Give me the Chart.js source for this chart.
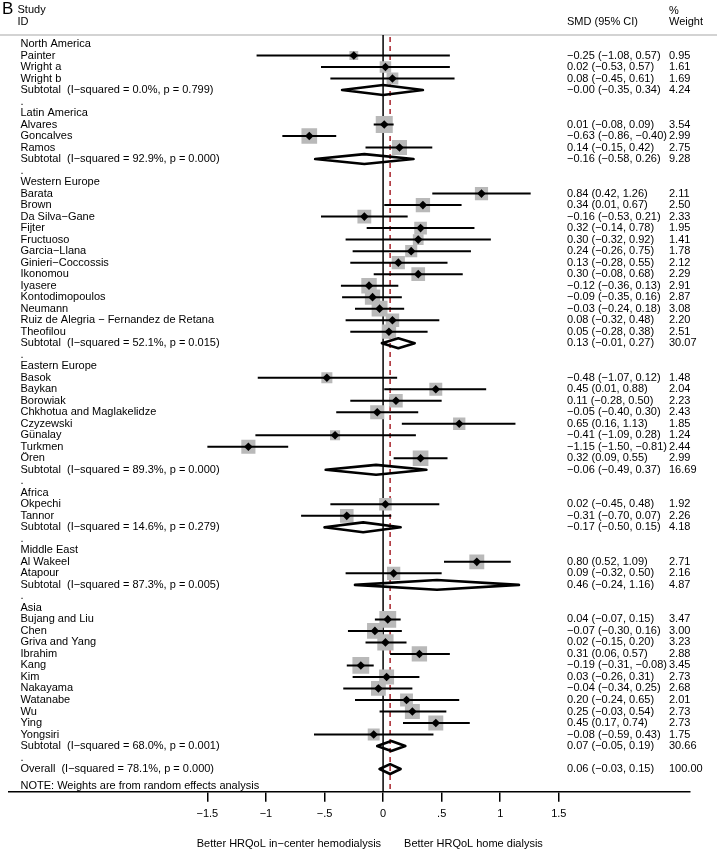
<!DOCTYPE html>
<html>
<head>
<meta charset="utf-8">
<script src="https://cdn.jsdelivr.net/npm/chart.js@4.4.0/dist/chart.umd.min.js"></script>
<style>
  body { margin: 0; background: #fff; }
  canvas { display: block; }
</style>
</head>
<body>
<canvas id="forest" width="717" height="849"></canvas>
<script>
// rows of the forest plot, top to bottom
var rowLabels = [
    'North America', 'Painter', 'Wright a', 'Wright b', 'Subtotal  (I\u2212squared = 0.0%, p = 0.799)', '.',
    'Latin America', 'Alvares', 'Goncalves', 'Ramos', 'Subtotal  (I\u2212squared = 92.9%, p = 0.000)', '.',
    'Western Europe', 'Barata', 'Brown', 'Da Silva\u2212Gane', 'Fijter', 'Fructuoso', 'Garcia\u2212Llana',
    'Ginieri\u2212Coccossis', 'Ikonomou', 'Iyasere', 'Kontodimopoulos', 'Neumann',
    'Ruiz de Alegria \u2212 Fernandez de Retana', 'Theofilou', 'Subtotal  (I\u2212squared = 52.1%, p = 0.015)', '.',
    'Eastern Europe', 'Basok', 'Baykan', 'Borowiak', 'Chkhotua and Maglakelidze', 'Czyzewski', 'G\u00fcnalay',
    'Turkmen', '\u00d6ren', 'Subtotal  (I\u2212squared = 89.3%, p = 0.000)', '.',
    'Africa', 'Okpechi', 'Tannor', 'Subtotal  (I\u2212squared = 14.6%, p = 0.279)', '.',
    'Middle East', 'Al Wakeel', 'Atapour', 'Subtotal  (I\u2212squared = 87.3%, p = 0.005)', '.',
    'Asia', 'Bujang and Liu', 'Chen', 'Griva and Yang', 'Ibrahim', 'Kang', 'Kim', 'Nakayama', 'Watanabe',
    'Wu', 'Ying', 'Yongsiri', 'Subtotal  (I\u2212squared = 68.0%, p = 0.001)', '.',
    'Overall  (I\u2212squared = 78.1%, p = 0.000)'
];
var noteText = 'NOTE: Weights are from random effects analysis';

// h = group header, s = study, t = subtotal, o = overall, '' = plain text
var rowKinds = [
    'h', 's', 's', 's', 't', '',
    'h', 's', 's', 's', 't', '',
    'h', 's', 's', 's', 's', 's', 's', 's', 's', 's', 's', 's', 's', 's', 't', '',
    'h', 's', 's', 's', 's', 's', 's', 's', 's', 't', '',
    'h', 's', 's', 't', '',
    'h', 's', 's', 't', '',
    'h', 's', 's', 's', 's', 's', 's', 's', 's', 's', 's', 's', 't', '',
    'o'
];

var smd = [
    null, -0.25, 0.02, 0.08, -0.00, null,
    null, 0.01, -0.63, 0.14, -0.16, null,
    null, 0.84, 0.34, -0.16, 0.32, 0.30, 0.24, 0.13, 0.30, -0.12, -0.09, -0.03, 0.08, 0.05, 0.13, null,
    null, -0.48, 0.45, 0.11, -0.05, 0.65, -0.41, -1.15, 0.32, -0.06, null,
    null, 0.02, -0.31, -0.17, null,
    null, 0.80, 0.09, 0.46, null,
    null, 0.04, -0.07, 0.02, 0.31, -0.19, 0.03, -0.04, 0.20, 0.25, 0.45, -0.08, 0.07, null,
    0.06
];

var ciLow = [
    null, -1.08, -0.53, -0.45, -0.35, null,
    null, -0.08, -0.86, -0.15, -0.58, null,
    null, 0.42, 0.01, -0.53, -0.14, -0.32, -0.26, -0.28, -0.08, -0.36, -0.35, -0.24, -0.32, -0.28, -0.01, null,
    null, -1.07, 0.01, -0.28, -0.40, 0.16, -1.09, -1.50, 0.09, -0.49, null,
    null, -0.45, -0.70, -0.50, null,
    null, 0.52, -0.32, -0.24, null,
    null, -0.07, -0.30, -0.15, 0.06, -0.31, -0.26, -0.34, -0.24, -0.03, 0.17, -0.59, -0.05, null,
    -0.03
];

var ciHigh = [
    null, 0.57, 0.57, 0.61, 0.34, null,
    null, 0.09, -0.40, 0.42, 0.26, null,
    null, 1.26, 0.67, 0.21, 0.78, 0.92, 0.75, 0.55, 0.68, 0.13, 0.16, 0.18, 0.48, 0.38, 0.27, null,
    null, 0.12, 0.88, 0.50, 0.30, 1.13, 0.28, -0.81, 0.55, 0.37, null,
    null, 0.48, 0.07, 0.15, null,
    null, 1.09, 0.50, 1.16, null,
    null, 0.15, 0.16, 0.20, 0.57, -0.08, 0.31, 0.25, 0.65, 0.54, 0.74, 0.43, 0.19, null,
    0.15
];

var weights = [
    null, 0.95, 1.61, 1.69, 4.24, null,
    null, 3.54, 2.99, 2.75, 9.28, null,
    null, 2.11, 2.50, 2.33, 1.95, 1.41, 1.78, 2.12, 2.29, 2.91, 2.87, 3.08, 2.20, 2.51, 30.07, null,
    null, 1.48, 2.04, 2.23, 2.43, 1.85, 1.24, 2.44, 2.99, 16.69, null,
    null, 1.92, 2.26, 4.18, null,
    null, 2.71, 2.16, 4.87, null,
    null, 3.47, 3.00, 3.23, 2.88, 3.45, 2.73, 2.68, 2.01, 2.73, 2.73, 1.75, 30.66, null,
    100.00
];

var tickValues = [-1.5, -1, -0.5, 0, 0.5, 1, 1.5];

var FONT = '"Liberation Sans", Arial, Helvetica, sans-serif';

var fmtNum = function (v) {
    var s = Math.abs(v).toFixed(2);
    return (v < 0 || Object.is(v, -0)) ? '\u2212' + s : s;
};

var fmtTick = function (v) {
    if (v === 0) return '0';
    var s = Math.abs(v).toString().replace(/^0\./, '.');
    return (v < 0 ? '\u2212' : '') + s;
};

// build datasets from the rows
var squares = [], squareSizes = [], points = [], ciLines = [], pooled = [];
var halfH = 0.43;   // half height of the pooled diamonds, in rows
var overallRow = -1;

for (var i = 0; i < rowLabels.length; i++) {
    var r = i + 1;
    if (rowKinds[i] === 's') {
        squares.push({x: smd[i], y: r});
        squareSizes.push(6.4 * Math.sqrt(weights[i]));
        points.push({x: smd[i], y: r});
        ciLines.push({x: ciLow[i], y: r}, {x: ciHigh[i], y: r}, {x: null, y: null});
    } else if (rowKinds[i] === 't' || rowKinds[i] === 'o') {
        pooled.push(
            {x: ciLow[i], y: r},
            {x: smd[i], y: r - halfH},
            {x: ciHigh[i], y: r},
            {x: smd[i], y: r + halfH},
            {x: ciLow[i], y: r},
            {x: null, y: null}
        );
        if (rowKinds[i] === 'o') overallRow = i;
    }
}

var forestPlugin = {
    id: 'forestText',
    beforeDatasetsDraw: function (chart) {
        var ctx = chart.ctx, a = chart.chartArea, x = chart.scales.x;
        ctx.save();
        // header rule
        ctx.strokeStyle = '#c4c4c4';
        ctx.lineWidth = 1.5;
        ctx.beginPath();
        ctx.moveTo(0, a.top);
        ctx.lineTo(chart.width, a.top);
        ctx.stroke();
        // line of no effect
        var x0 = x.getPixelForValue(0);
        ctx.strokeStyle = '#000';
        ctx.beginPath();
        ctx.moveTo(x0, a.top);
        ctx.lineTo(x0, a.bottom);
        ctx.stroke();
        // overall estimate
        var xo = x.getPixelForValue(smd[overallRow]);
        ctx.strokeStyle = '#a8232b';
        ctx.setLineDash([5, 4]);
        ctx.beginPath();
        ctx.moveTo(xo, a.top + 2);
        ctx.lineTo(xo, a.bottom);
        ctx.stroke();
        ctx.restore();
    },
    afterDraw: function (chart) {
        var ctx = chart.ctx, a = chart.chartArea, x = chart.scales.x, y = chart.scales.y;
        ctx.save();
        ctx.fillStyle = '#000';
        ctx.textBaseline = 'middle';
        ctx.textAlign = 'left';

        ctx.font = '17px ' + FONT;
        ctx.fillText('B', 2, 9);
        ctx.font = '11px ' + FONT;
        ctx.fillText('Study', 17.5, 10);
        ctx.fillText('ID', 17.5, 22);
        ctx.fillText('SMD (95% CI)', 567, 22);
        ctx.fillText('%', 669, 11);
        ctx.fillText('Weight', 669, 22);

        for (var i = 0; i < rowLabels.length; i++) {
            var py = y.getPixelForValue(i + 1);
            ctx.fillText(rowLabels[i], 20.5, py);
            if (smd[i] !== null) {
                ctx.fillText(fmtNum(smd[i]) + ' (' + fmtNum(ciLow[i]) + ', ' + fmtNum(ciHigh[i]) + ')', 567, py);
                ctx.fillText(weights[i].toFixed(2), 669, py);
            }
        }
        // note sits right on the axis line
        ctx.fillText(noteText, 20.5, a.bottom - 6);

        var x0 = x.getPixelForValue(0);
        ctx.textAlign = 'right';
        ctx.fillText('Better HRQoL in\u2212center hemodialysis', x0 - 2, 844);
        ctx.textAlign = 'left';
        ctx.fillText('Better HRQoL home dialysis', x0 + 21, 844);
        ctx.restore();
    }
};

var ctx = document.getElementById('forest');

var chart = new Chart(ctx, {
    type: 'line',
    data: {
        datasets: [
            {
                // pooled diamonds
                data: pooled,
                borderColor: '#000',
                borderWidth: 2.6,
                borderJoinStyle: 'round',
                borderCapStyle: 'round',
                pointRadius: 0,
                fill: false,
                spanGaps: false
            },
            {
                // point estimates
                data: points,
                showLine: false,
                pointStyle: 'rectRot',
                pointRadius: 4.3,
                pointBackgroundColor: '#000',
                pointBorderWidth: 0
            },
            {
                // confidence intervals
                data: ciLines,
                borderColor: '#000',
                borderWidth: 2,
                borderCapStyle: 'butt',
                pointRadius: 0,
                fill: false,
                spanGaps: false
            },
            {
                // study weights
                data: squares,
                showLine: false,
                pointStyle: 'rect',
                pointRadius: squareSizes,
                pointBackgroundColor: '#b9b9b9',
                pointBorderWidth: 0
            }
        ]
    },
    options: {
        responsive: false,
        animation: false,
        events: [],
        layout: { padding: { top: 35, left: 0, right: 27, bottom: 22 } },
        plugins: {
            legend: { display: false },
            tooltip: { enabled: false }
        },
        scales: {
            x: {
                type: 'linear',
                min: -3.198,
                max: 2.62,
                afterBuildTicks: function (scale) {
                    scale.ticks = tickValues.map(function (v) { return {value: v}; });
                },
                ticks: {
                    callback: fmtTick,
                    color: '#000',
                    font: { size: 11, family: FONT },
                    padding: 6,
                    maxRotation: 0,
                    autoSkip: false
                },
                grid: {
                    drawOnChartArea: false,
                    tickLength: 10,
                    color: '#000',
                    lineWidth: 1.5
                },
                border: { color: '#000', width: 1.5 }
            },
            y: {
                type: 'linear',
                reverse: true,
                min: 0.22,
                max: 65.98,
                display: false
            }
        }
    },
    plugins: [forestPlugin]
});
</script>
</body>
</html>
